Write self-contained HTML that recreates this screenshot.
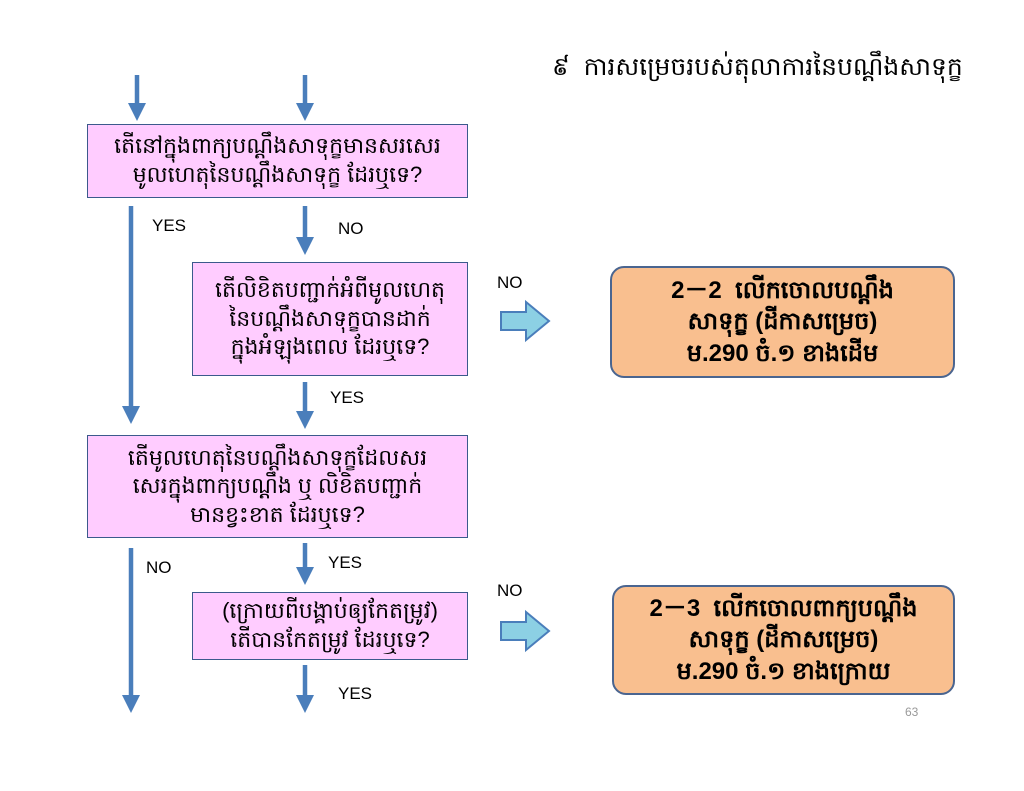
<!DOCTYPE html>
<html><head><meta charset="utf-8"><style>
html,body{margin:0;padding:0;background:#fff;}
body{width:1024px;height:791px;overflow:hidden;position:relative;font-family:"Liberation Sans","DejaVu Sans",sans-serif;}
.box{position:absolute;background:#ffccff;border:1.5px solid #3b5a8c;box-sizing:border-box;display:flex;align-items:center;justify-content:center;text-align:center;font-size:22px;line-height:1.3;color:#000;}
.or{position:absolute;background:#f9bf8f;border:2px solid #4a6590;border-radius:14px;box-sizing:border-box;display:flex;align-items:center;justify-content:center;text-align:center;font-size:24px;font-weight:bold;line-height:1.3;}
.lbl{position:absolute;font-size:17px;color:#000;}
</style></head><body>
<svg width="1024" height="791" style="position:absolute;left:0;top:0">
<defs><marker id="a" markerWidth="4" markerHeight="4" refX="2" refY="2" orient="auto" markerUnits="strokeWidth"><path d="M0,0 L4,2 L0,4 z" fill="#4a7ebb"/></marker></defs>
<g stroke="#4a7ebb" stroke-width="4.5" fill="none">
<line x1="137" y1="75" x2="137" y2="112" marker-end="url(#a)"/>
<line x1="305" y1="75" x2="305" y2="112" marker-end="url(#a)"/>
<line x1="131" y1="206" x2="131" y2="415" marker-end="url(#a)"/>
<line x1="305" y1="206" x2="305" y2="246" marker-end="url(#a)"/>
<line x1="305" y1="382" x2="305" y2="420" marker-end="url(#a)"/>
<line x1="131" y1="548" x2="131" y2="704" marker-end="url(#a)"/>
<line x1="305" y1="543" x2="305" y2="576" marker-end="url(#a)"/>
<line x1="305" y1="665" x2="305" y2="704" marker-end="url(#a)"/>
</g>
<path d="M501,312 L526,312 L526,302 L549,321 L526,340 L526,330 L501,330 Z" fill="#8cd0e4" stroke="#4a7ebb" stroke-width="2"/>
<path d="M501,622 L526,622 L526,612 L549,631 L526,650 L526,640 L501,640 Z" fill="#8cd0e4" stroke="#4a7ebb" stroke-width="2"/>
</svg>
<div style="position:absolute;left:552px;top:52px;font-size:25px;">៩ &nbsp;ការសម្រេចរបស់តុលាការនៃបណ្ដឹងសាទុក្ខ</div>
<div class="box" style="left:87px;top:124px;width:381px;height:74px;">តើនៅក្នុងពាក្យបណ្ដឹងសាទុក្ខមានសរសេរ<br>មូលហេតុនៃបណ្ដឹងសាទុក្ខ ដែរឬទេ?</div>
<div class="box" style="left:192px;top:262px;width:276px;height:114px;">តើលិខិតបញ្ជាក់អំពីមូលហេតុ<br>នៃបណ្ដឹងសាទុក្ខបានដាក់<br>ក្នុងអំឡុងពេល ដែរឬទេ?</div>
<div class="box" style="left:87px;top:435px;width:381px;height:103px;">តើមូលហេតុនៃបណ្ដឹងសាទុក្ខដែលសរ<br>សេរក្នុងពាក្យបណ្ដឹង ឬ លិខិតបញ្ជាក់<br>មានខ្វះខាត ដែរឬទេ?</div>
<div class="box" style="left:192px;top:592px;width:276px;height:68px;">(ក្រោយពីបង្គាប់ឲ្យកែតម្រូវ)<br>តើបានកែតម្រូវ ដែរឬទេ?</div>
<div class="or" style="left:610px;top:266px;width:345px;height:112px;">2－2 &nbsp;លើកចោលបណ្ដឹង<br>សាទុក្ខ (ដីកាសម្រេច)<br>ម.290 ចំ.១ ខាងដើម</div>
<div class="or" style="left:612px;top:585px;width:343px;height:110px;">2－3 &nbsp;លើកចោលពាក្យបណ្ដឹង<br>សាទុក្ខ (ដីកាសម្រេច)<br>ម.290 ចំ.១ ខាងក្រោយ</div>
<div class="lbl" style="left:152px;top:216px;">YES</div>
<div class="lbl" style="left:338px;top:219px;">NO</div>
<div class="lbl" style="left:497px;top:273px;">NO</div>
<div class="lbl" style="left:330px;top:388px;">YES</div>
<div class="lbl" style="left:146px;top:558px;">NO</div>
<div class="lbl" style="left:328px;top:553px;">YES</div>
<div class="lbl" style="left:497px;top:581px;">NO</div>
<div class="lbl" style="left:338px;top:684px;">YES</div>
<div style="position:absolute;left:905px;top:705px;font-size:12px;color:#999;">63</div>
</body></html>
